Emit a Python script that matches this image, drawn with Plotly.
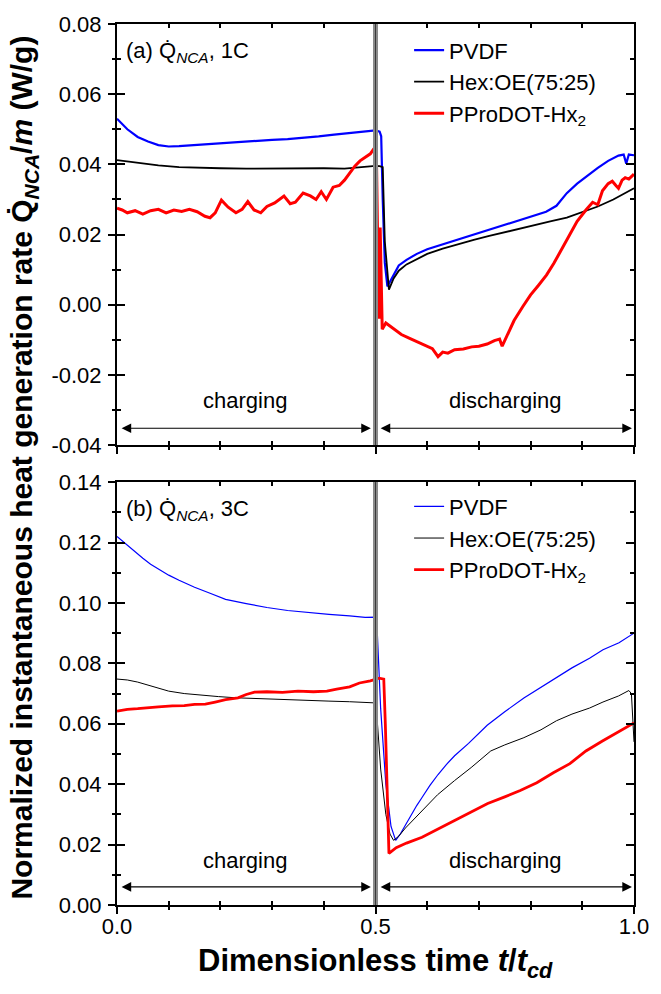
import plotly.graph_objects as go

# ---------------- data ----------------
# Panel (a): 1C
T_A_PVDF = [0, 0.01, 0.02, 0.04, 0.06, 0.08, 0.10, 0.12, 0.15, 0.18, 0.21, 0.24, 0.27, 0.30,
            0.33, 0.36, 0.39, 0.42, 0.45, 0.48, 0.50, 0.508, 0.511, 0.514, 0.518, 0.523, 0.53,
            0.545, 0.56, 0.58, 0.60, 0.63, 0.66, 0.69, 0.72, 0.75, 0.78, 0.81, 0.83, 0.85,
            0.87, 0.89, 0.91, 0.93, 0.95, 0.97, 0.98, 0.985, 0.99, 1.0]
Q_A_PVDF = [0.0530, 0.0515, 0.0500, 0.0478, 0.0465, 0.0455, 0.0451, 0.0452, 0.0455, 0.0460,
            0.0463, 0.0466, 0.0468, 0.0470, 0.0472, 0.0475, 0.0480, 0.0485, 0.0490, 0.0495,
            0.0497, 0.0493, 0.0480, 0.0300, 0.0120, 0.0052, 0.0072, 0.0112, 0.0128, 0.0145,
            0.0158, 0.0172, 0.0185, 0.0198, 0.0214, 0.0228, 0.0242, 0.0255, 0.0265, 0.0282,
            0.0318, 0.0345, 0.0368, 0.0390, 0.0410, 0.0425, 0.0428, 0.0402, 0.0428, 0.0426]

T_A_HEX = [0, 0.02, 0.05, 0.08, 0.12, 0.16, 0.20, 0.25, 0.30, 0.35, 0.40, 0.44, 0.47, 0.50,
           0.508, 0.514, 0.518, 0.526, 0.535, 0.545, 0.56, 0.58, 0.60, 0.63, 0.66, 0.69, 0.72,
           0.75, 0.78, 0.81, 0.84, 0.87, 0.90, 0.93, 0.96, 0.98, 1.0]
Q_A_HEX = [0.0412, 0.0408, 0.0402, 0.0397, 0.0392, 0.0390, 0.0389, 0.0388, 0.0389, 0.0390,
           0.0389, 0.0388, 0.0393, 0.0396, 0.0395, 0.0392, 0.0180, 0.0043, 0.0075, 0.0097,
           0.0115, 0.0130, 0.0145, 0.0160, 0.0173, 0.0185, 0.0196, 0.0207, 0.0218, 0.0229,
           0.0238, 0.0248, 0.0265, 0.0280, 0.0300, 0.0315, 0.0332]

T_A_PPRO = [0, 0.01, 0.02, 0.035, 0.05, 0.065, 0.08, 0.095, 0.11, 0.125, 0.14, 0.155, 0.17,
            0.18, 0.19, 0.202, 0.215, 0.23, 0.242, 0.253, 0.265, 0.278, 0.29, 0.305, 0.323,
            0.335, 0.345, 0.36, 0.374, 0.385, 0.395, 0.405, 0.418, 0.43, 0.44, 0.45, 0.46,
            0.47, 0.48, 0.49, 0.497, 0.502, 0.505, 0.507, 0.509, 0.511, 0.513, 0.52, 0.535,
            0.55, 0.565, 0.58, 0.595, 0.61, 0.621, 0.63, 0.64, 0.653, 0.67, 0.686, 0.70,
            0.716, 0.73, 0.74, 0.745, 0.755, 0.768, 0.785, 0.80, 0.815, 0.831, 0.845, 0.857,
            0.867, 0.876, 0.89, 0.907, 0.92, 0.93, 0.939, 0.95, 0.958, 0.965, 0.97, 0.977,
            0.983, 0.99, 1.0]
Q_A_PPRO = [0.0275, 0.0270, 0.0262, 0.0268, 0.0258, 0.0268, 0.0272, 0.0262, 0.0270, 0.0266,
            0.0272, 0.0265, 0.0252, 0.0248, 0.0262, 0.0298, 0.0278, 0.0262, 0.0272, 0.0294,
            0.0270, 0.0262, 0.0280, 0.0290, 0.0310, 0.0288, 0.0292, 0.0318, 0.0310, 0.0300,
            0.0322, 0.0300, 0.0335, 0.0340, 0.0355, 0.0375, 0.0395, 0.0410, 0.0420, 0.0430,
            0.0445, 0.0400, 0.0100, -0.0040, 0.0220, 0.0080, -0.0070, -0.0052, -0.0068,
            -0.0085, -0.0095, -0.0105, -0.0115, -0.0125, -0.0148, -0.0135, -0.0138, -0.0128,
            -0.0126, -0.0120, -0.0118, -0.0112, -0.0102, -0.0098, -0.0118, -0.0085, -0.0045,
            -0.0005, 0.0028, 0.0055, 0.0085, 0.0118, 0.0150, 0.0178, 0.0204, 0.0238, 0.0270,
            0.0292, 0.0285, 0.0325, 0.0345, 0.0352, 0.0340, 0.0332, 0.0355, 0.0362, 0.0358,
            0.0372]

# Panel (b): 3C
T_B_PVDF = [0, 0.01, 0.02, 0.035, 0.05, 0.065, 0.08, 0.10, 0.12, 0.15, 0.18, 0.21, 0.25, 0.29,
            0.33, 0.37, 0.41, 0.45, 0.48, 0.50, 0.503, 0.51, 0.52, 0.53, 0.539, 0.548, 0.558,
            0.57, 0.58, 0.59, 0.605, 0.621, 0.637, 0.653, 0.68, 0.716, 0.75, 0.787, 0.82,
            0.85, 0.88, 0.914, 0.94, 0.971, 1.0]
Q_B_PVDF = [0.122, 0.1205, 0.119, 0.1168, 0.1148, 0.1128, 0.1112, 0.1092, 0.1075, 0.1052,
            0.1032, 0.1012, 0.0998, 0.0985, 0.0975, 0.0968, 0.0962, 0.0957, 0.0952, 0.0953,
            0.0920, 0.0650, 0.0400, 0.0260, 0.0214, 0.0235, 0.0265, 0.0300, 0.0330, 0.0356,
            0.0395, 0.0432, 0.0465, 0.0494, 0.0535, 0.0595, 0.0640, 0.0685, 0.0720, 0.0751,
            0.0785, 0.0817, 0.0845, 0.0868, 0.0900]

T_B_HEX = [0, 0.02, 0.04, 0.06, 0.082, 0.10, 0.13, 0.16, 0.196, 0.23, 0.26, 0.297, 0.33, 0.37,
           0.41, 0.45, 0.48, 0.50, 0.503, 0.51, 0.52, 0.528, 0.535, 0.545, 0.558, 0.575, 0.59,
           0.62, 0.653, 0.685, 0.723, 0.75, 0.787, 0.82, 0.85, 0.88, 0.914, 0.94, 0.97, 0.99,
           0.995, 1.0]
Q_B_HEX = [0.0748, 0.0745, 0.0738, 0.0728, 0.0715, 0.0708, 0.0700, 0.0695, 0.0690, 0.0686,
           0.0684, 0.0680, 0.0678, 0.0677, 0.0675, 0.0673, 0.0670, 0.0669, 0.0620, 0.0450,
           0.0300, 0.0235, 0.0214, 0.0228, 0.0255, 0.0285, 0.0313, 0.0365, 0.0412, 0.0455,
           0.0510, 0.0530, 0.0554, 0.0580, 0.0610, 0.0632, 0.0652, 0.0672, 0.0692, 0.0710,
           0.0700, 0.0540]

T_B_PPRO = [0, 0.02, 0.04, 0.06, 0.08, 0.107, 0.13, 0.15, 0.171, 0.19, 0.21, 0.234, 0.25,
            0.266, 0.29, 0.32, 0.35, 0.38, 0.406, 0.425, 0.45, 0.469, 0.49, 0.507, 0.516,
            0.519, 0.523, 0.526, 0.54, 0.56, 0.59, 0.62, 0.653, 0.685, 0.717, 0.75, 0.78,
            0.812, 0.844, 0.876, 0.907, 0.939, 0.971, 1.0]
Q_B_PPRO = [0.0642, 0.0648, 0.0650, 0.0654, 0.0656, 0.0659, 0.0660, 0.0664, 0.0665, 0.0672,
            0.0680, 0.0686, 0.0697, 0.0705, 0.0706, 0.0704, 0.0708, 0.0706, 0.0708, 0.0715,
            0.0722, 0.0735, 0.0742, 0.0751, 0.0748, 0.0600, 0.0300, 0.0171, 0.0190, 0.0205,
            0.0224, 0.0252, 0.0280, 0.0308, 0.0336, 0.0358, 0.0379, 0.0405, 0.0438, 0.0468,
            0.0510, 0.0543, 0.0576, 0.0603]

SERIES_NAMES = ["PVDF", "Hex:OE(75:25)", "PProDOT-Hx<sub>2</sub>"]
SERIES_COLORS = ["#0000ff", "#000000", "#ff0000"]

X_TICKS = [0.0, 0.5, 1.0]
X_TICKTEXT = ["0.0", "0.5", "1.0"]
Y_TICKS_A = [-0.04, -0.02, 0.00, 0.02, 0.04, 0.06, 0.08]
Y_TICKTEXT_A = ["-0.04", "-0.02", "0.00", "0.02", "0.04", "0.06", "0.08"]
Y_TICKS_B = [0.00, 0.02, 0.04, 0.06, 0.08, 0.10, 0.12, 0.14]
Y_TICKTEXT_B = ["0.00", "0.02", "0.04", "0.06", "0.08", "0.10", "0.12", "0.14"]

CHARGE_END = 0.5          # t/tcd where charging ends
ARROW_Y_A = -0.0352
LABEL_Y_A = -0.0272
ARROW_Y_B = 0.006
LABEL_Y_B = 0.0148

FONT = "Liberation Sans, Arial, sans-serif"
FS = 22

fig = go.Figure()

panel_a = [(T_A_PVDF, Q_A_PVDF, 2.2), (T_A_HEX, Q_A_HEX, 1.8), (T_A_PPRO, Q_A_PPRO, 3.0)]
panel_b = [(T_B_PVDF, Q_B_PVDF, 1.2), (T_B_HEX, Q_B_HEX, 1.0), (T_B_PPRO, Q_B_PPRO, 2.8)]

for i, (t, q, w) in enumerate(panel_a):
    fig.add_trace(go.Scatter(x=t, y=q, mode="lines", name=SERIES_NAMES[i],
                             line=dict(color=SERIES_COLORS[i], width=w),
                             xaxis="x", yaxis="y", legend="legend",
                             legendgroup="a%d" % i))
for i, (t, q, w) in enumerate(panel_b):
    fig.add_trace(go.Scatter(x=t, y=q, mode="lines", name=SERIES_NAMES[i],
                             line=dict(color=SERIES_COLORS[i], width=w),
                             xaxis="x2", yaxis="y2", legend="legend2",
                             legendgroup="b%d" % i))

# dummy traces to create the overlay (outside-tick) axes
fig.add_trace(go.Scatter(x=[None], y=[None], xaxis="x3", yaxis="y3", showlegend=False))
fig.add_trace(go.Scatter(x=[None], y=[None], xaxis="x4", yaxis="y4", showlegend=False))

DOM_A = [0.522, 1.0]
DOM_B = [0.0, 0.480]

base = dict(showgrid=False, zeroline=False, tickcolor="black", tickwidth=2, ticklen=8,
            tickfont=dict(family=FONT, size=FS, color="black"))
minor_in = dict(ticks="inside", ticklen=4, tickwidth=1.5, tickcolor="black")
minor_out = dict(ticks="outside", ticklen=4, tickwidth=1.5, tickcolor="black")

def main_x(anchor):
    return dict(base, domain=[0, 1], anchor=anchor, range=[0, 1], showline=True,
                linecolor="black", linewidth=2, mirror="ticks", ticks="inside",
                tickvals=X_TICKS, showticklabels=False,
                minor=dict(minor_in, dtick=0.1, tick0=0))

def main_y(anchor, dom, rng, tv):
    return dict(base, domain=dom, anchor=anchor, range=rng, showline=True,
                linecolor="black", linewidth=2, mirror="ticks", ticks="inside",
                tickvals=tv, showticklabels=False,
                minor=dict(minor_in, dtick=0.01, tick0=0))

fig.update_layout(
    xaxis=main_x("y"),
    xaxis2=main_x("y2"),
    yaxis=main_y("x", DOM_A, [-0.04, 0.08], Y_TICKS_A),
    yaxis2=main_y("x2", DOM_B, [0, 0.14], Y_TICKS_B),
    xaxis3=dict(base, overlaying="x", anchor="y3", range=[0, 1], showline=False,
                ticks="outside", tickvals=X_TICKS, showticklabels=False,
                minor=dict(minor_out, dtick=0.1, tick0=0)),
    xaxis4=dict(base, overlaying="x2", anchor="y4", range=[0, 1], showline=False,
                ticks="outside", tickvals=X_TICKS, ticktext=X_TICKTEXT,
                showticklabels=True, ticklabelstandoff=-6,
                minor=dict(minor_out, dtick=0.1, tick0=0)),
    yaxis3=dict(base, overlaying="y", anchor="x3", range=[-0.04, 0.08], showline=False,
                ticks="outside", tickvals=Y_TICKS_A, ticktext=Y_TICKTEXT_A,
                showticklabels=True, ticklabelstandoff=2,
                minor=dict(minor_out, dtick=0.01, tick0=0)),
    yaxis4=dict(base, overlaying="y2", anchor="x4", range=[0, 0.14], showline=False,
                ticks="outside", tickvals=Y_TICKS_B, ticktext=Y_TICKTEXT_B,
                showticklabels=True, ticklabelstandoff=2,
                minor=dict(minor_out, dtick=0.01, tick0=0)),
)

legend_common = dict(xanchor="left", yanchor="top", bgcolor="rgba(0,0,0,0)",
                     font=dict(family=FONT, size=FS, color="black"),
                     tracegroupgap=0, itemwidth=30)
fig.update_layout(
    legend=dict(legend_common, x=0.565, y=0.994),
    legend2=dict(legend_common, x=0.565, y=0.476),
)

# divider at end of charging
for yref in ["y domain", "y2 domain"]:
    xr = "x" if yref == "y domain" else "x2"
    fig.add_shape(type="line", xref=xr, yref=yref, x0=CHARGE_END, x1=CHARGE_END, y0=0, y1=1,
                  line=dict(color="#8a8a8a", width=5))
    fig.add_shape(type="line", xref=xr, yref=yref, x0=CHARGE_END, x1=CHARGE_END, y0=0, y1=1,
                  line=dict(color="#3a3a3a", width=1))

# arrows and phase labels
def phase(xr, yr, y_arrow, y_label):
    for (a, b, label) in [(0.006, 0.491, "charging"), (0.507, 0.996, "discharging")]:
        fig.add_annotation(x=b, y=y_arrow, ax=a, ay=y_arrow, xref=xr, yref=yr,
                           axref=xr, ayref=yr, text="", showarrow=True,
                           arrowhead=2, startarrowhead=2, arrowside="end+start",
                           arrowsize=1.6, startarrowsize=1.6, arrowwidth=1.2,
                           arrowcolor="black", standoff=0, startstandoff=0)
        fig.add_annotation(x=(a + b) / 2, y=y_label, xref=xr, yref=yr, text=label,
                           showarrow=False, font=dict(family=FONT, size=FS, color="black"))

phase("x", "y", ARROW_Y_A, LABEL_Y_A)
phase("x2", "y2", ARROW_Y_B, LABEL_Y_B)

# panel labels
fig.add_annotation(x=0.013, y=0.968, xref="paper", yref="paper", xanchor="left",
                   yanchor="middle", showarrow=False,
                   text="(a) Q\u0307<sub><i>NCA</i></sub>, 1C",
                   font=dict(family=FONT, size=FS, color="black"))
fig.add_annotation(x=0.013, y=0.4486, xref="paper", yref="paper", xanchor="left",
                   yanchor="middle", showarrow=False,
                   text="(b) Q\u0307<sub><i>NCA</i></sub>, 3C",
                   font=dict(family=FONT, size=FS, color="black"))

# axis titles
fig.add_annotation(x=-0.181, y=0.497, xref="paper", yref="paper", textangle=-90,
                   showarrow=False, xanchor="center", yanchor="middle",
                   text="<b>Normalized instantaneous heat generation rate "
                        "Q\u0307<sub><i>NCA</i></sub>/<i>m</i> (W/g)</b>",
                   font=dict(family=FONT, size=30, color="black"))
fig.add_annotation(x=0.5, y=-0.0655, xref="paper", yref="paper", showarrow=False,
                   xanchor="center", yanchor="middle",
                   text="<b>Dimensionless time <i>t</i>/<i>t</i><sub><i>cd</i></sub></b>",
                   font=dict(family=FONT, size=31, color="black"))

fig.update_layout(width=661, height=994, margin=dict(l=117, r=19, t=20, b=89),
                  plot_bgcolor="white", paper_bgcolor="white",
                  font=dict(family=FONT, size=FS, color="black"))

fig.write_html("out.html")
